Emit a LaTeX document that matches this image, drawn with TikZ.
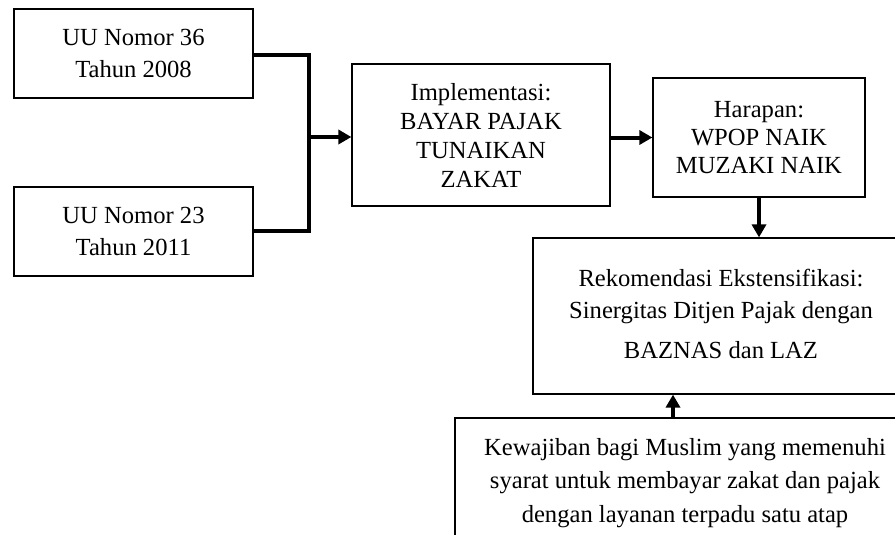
\documentclass[tikz,border=0pt]{standalone}
\usepackage{fontspec}
\setmainfont{Liberation Serif}
\usetikzlibrary{arrows.meta}
\tikzset{
  box/.style={draw=black, line width=1.2pt, align=center, inner sep=0pt,
    font=\fontsize{24.6}{32}\selectfont},
  conn/.style={line width=4pt, line cap=rect},
  arr/.style={line width=4pt, -{Triangle[length=13pt,width=14pt]}},
}
\begin{document}
\begin{tikzpicture}[x=1pt,y=-1pt]
\useasboundingbox (0,0) rectangle (895,535);
\clip (0,0) rectangle (895,535);
\fill[white] (0,0) rectangle (895,535);
\node[box, minimum width=239pt, minimum height=89pt] (uu36) at (133.5,53.5) {UU Nomor 36\\Tahun 2008};
\node[box, minimum width=239pt, minimum height=89pt] (uu23) at (133.5,231.5) {UU Nomor 23\\Tahun 2011};
\node[box, minimum width=258pt, minimum height=142pt, font=\fontsize{24.6}{29}\selectfont] (impl) at (481,135) {Implementasi:\\BAYAR PAJAK\\TUNAIKAN\\ZAKAT};
\node[box, minimum width=212pt, minimum height=119pt, font=\fontsize{24.6}{28}\selectfont] (harap) at (759,137.5) {Harapan:\\WPOP NAIK\\MUZAKI NAIK};
\node[box, minimum width=420pt, minimum height=156pt] (rek) at (743,316) {\raisebox{12pt}{\hspace*{-44pt}\begin{tabular}{@{}c@{}}Rekomendasi Ekstensifikasi:\\Sinergitas Ditjen Pajak dengan\\[8pt]BAZNAS dan LAZ\end{tabular}}};
\node[box, minimum width=460pt, minimum height=130pt, font=\fontsize{24.6}{33.5}\selectfont] (bot) at (685,483) {Kewajiban bagi Muslim yang memenuhi\\syarat untuk membayar zakat dan pajak\\dengan layanan terpadu satu atap};
\coordinate (jt) at (309,55);
\coordinate (jb) at (309,231);
\coordinate (jm) at (309,137);
\draw[conn, line cap=butt] (uu36.east |- jt) -- (jt) -- (jb) -- (uu23.east |- jb);
\draw[arr] (jm) -- (impl.west |- jm);
\draw[arr] (impl.east |- harap.west) -- (harap.west);
\draw[arr] (harap.south) -- (harap.south |- rek.north);
\draw[arr] ([xshift=-12pt]bot.north) -- ([xshift=-12pt]bot.north |- rek.south);
\end{tikzpicture}
\end{document}
